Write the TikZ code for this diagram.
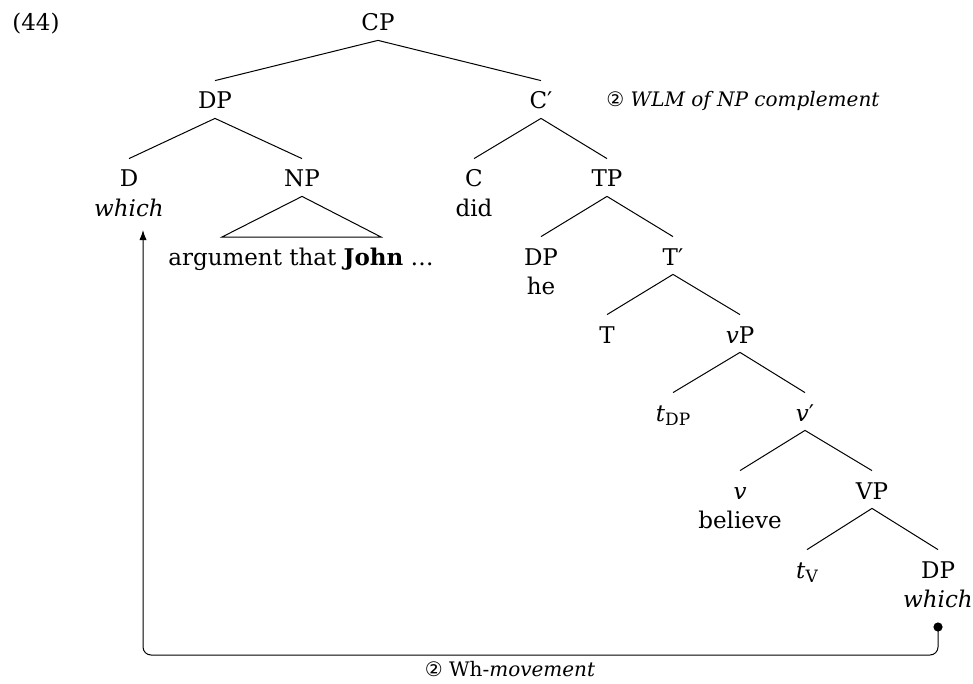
\documentclass[tikz,border=0pt]{standalone}
\usepackage{fontspec}
\setmainfont{DejaVu Serif}
\newfontfamily\circfont{DejaVu Sans}
\usetikzlibrary{arrows.meta}
% small lowered subscript for traces
\newcommand\tsub[1]{\raisebox{-0.35ex}{\fontsize{8.5}{10}\selectfont #1}}

\begin{document}
\begin{tikzpicture}[x=0.5pt,y=-0.5pt,
  cat/.style={anchor=base,inner sep=0pt,text height=14pt,text depth=4.5pt,
              font=\fontsize{11.5}{14}\selectfont},
  word/.style={anchor=base,inner sep=0pt,font=\fontsize{11.5}{14}\selectfont},
  note/.style={anchor=base,inner sep=0pt,font=\fontsize{10}{12}\selectfont},
  branch/.style={line width=0.5pt},
  move/.style={line width=0.5pt,rounded corners=4pt}]

\useasboundingbox (0,0) rectangle (973,684);

\node[word,anchor=base west] (ex) at (12,31) {(44)};

% tree nodes
\node[cat] (CP)   at (378,31)  {CP};
\node[cat] (DP1)  at (215,109) {DP};
\node[cat] (Cbar) at (541,109) {C′};
\node[cat] (D)    at (129,187) {D};
\node[word] (Dw)  at (129,216) {\textit{which}};
\node[cat] (NP)   at (302,187) {NP};
\node[word] (NPw) at (301,265) {argument that \textbf{John} …};
\node[cat] (C)    at (474,187) {C};
\node[word] (Cw)  at (474,216) {did};
\node[cat] (TP)   at (607,187) {TP};
\node[cat] (DP2)  at (541,265) {DP};
\node[word] (DP2w) at (541,294) {he};
\node[cat] (Tbar) at (673,265) {T′};
\node[cat] (T)    at (607,343) {T};
\node[cat] (vP)   at (740,343) {\textit{v}P};
\node[cat] (tDP)  at (673,421) {\textit{t}\tsub{DP}};
\node[cat] (vbar) at (805,421) {\textit{v}′};
\node[cat] (v)    at (740,499) {\textit{v}};
\node[word] (vw)  at (740,528) {believe};
\node[cat] (VP)   at (872,499) {VP};
\node[cat] (tV)   at (807,578) {\textit{t}\tsub{V}};
\node[cat] (DP3)  at (938,578) {DP};
\node[word] (DP3w) at (938,607) {\textit{which}};

% branches
\draw[branch] (CP.south) -- (DP1.north);
\draw[branch] (CP.south) -- (Cbar.north);
\draw[branch] (DP1.south) -- (D.north);
\draw[branch] (DP1.south) -- (NP.north);
\draw[branch] (Cbar.south) -- (C.north);
\draw[branch] (Cbar.south) -- (TP.north);
\draw[branch] (TP.south) -- (DP2.north);
\draw[branch] (TP.south) -- (Tbar.north);
\draw[branch] (Tbar.south) -- (T.north);
\draw[branch] (Tbar.south) -- (vP.north);
\draw[branch] (vP.south) -- (tDP.north);
\draw[branch] (vP.south) -- (vbar.north);
\draw[branch] (vbar.south) -- (v.north);
\draw[branch] (vbar.south) -- (VP.north);
\draw[branch] (VP.south) -- (tV.north);
\draw[branch] (VP.south) -- (DP3.north);

% roof over the NP
\coordinate (triL) at (222,237);
\coordinate (triR) at (381,237);
\draw[branch] (NP.south) -- (triL) -- (triR) -- cycle;

% wh-movement path
\coordinate (dot)  at (938,627);
\coordinate (m1)   at (938,655);
\coordinate (m2)   at (143,655);
\coordinate (tip)  at (143,230);
\draw[move,-{Latex[length=5pt,width=3.6pt]}] (dot) -- (m1) -- (m2) -- (tip);
\fill (dot) circle (2.3pt);

% annotations
\node[note,anchor=base west] (wlm) at (606,107) {{\circfont ②} \textit{WLM of NP complement}};
\node[note] (wh) at (510,676) {{\circfont ②} Wh-\textit{movement}};
\end{tikzpicture}
\end{document}
